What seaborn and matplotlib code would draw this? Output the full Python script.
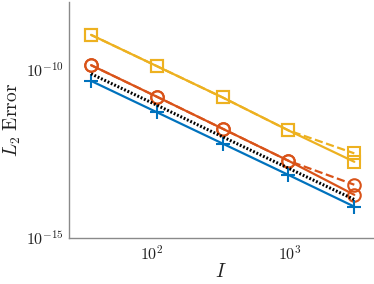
import numpy as np
import pandas as pd
import matplotlib
matplotlib.use('Agg')
import matplotlib.pyplot as plt
import seaborn as sns
from matplotlib.ticker import FixedLocator, FuncFormatter, LogLocator, NullFormatter

# data
I = [36, 108, 324, 972, 2916]
err_plus = [4.57e-11, 5.37e-12, 6.31e-13, 7.41e-14, 8.5e-15]
err_circ = [1.34e-10, 1.55e-11, 1.74e-12, 1.95e-13, 1.91e-14]
err_circ_dash = [1.34e-10, 1.55e-11, 1.74e-12, 1.95e-13, 3.8e-14]
err_sq = [1.06e-9, 1.25e-10, 1.47e-11, 1.55e-12, 1.82e-13]
err_sq_dash = [1.06e-9, 1.25e-10, 1.47e-11, 1.55e-12, 3.24e-13]
err_ref = [7.41e-11, 8.7e-12, 1.0e-12, 1.17e-13, 1.38e-14]

blue = '#0072BD'
orange = '#D95319'
yellow = '#EDB120'

sns.set_style('white')
plt.rcParams['font.family'] = ['DejaVu Serif']
plt.rcParams['mathtext.fontset'] = 'cm'

fig = plt.figure(figsize=(3.74, 2.84), dpi=100)
ax = fig.add_axes([0.185, 0.162, 0.813, 0.831])

mk = dict(markerfacecolor='none', markeredgewidth=1.5, markersize=8)

sns.lineplot(x=I, y=err_sq_dash, ax=ax, color=yellow, linestyle='--', lw=1.6,
             marker='s', markeredgecolor=yellow, **mk)
sns.lineplot(x=I, y=err_sq, ax=ax, color=yellow, lw=1.6,
             marker='s', markeredgecolor=yellow, **mk)
sns.lineplot(x=I, y=err_circ_dash, ax=ax, color=orange, linestyle='--', lw=1.6,
             marker='o', markeredgecolor=orange, **dict(mk, markersize=9))
sns.lineplot(x=I, y=err_circ, ax=ax, color=orange, lw=1.6,
             marker='o', markeredgecolor=orange, **dict(mk, markersize=9))
sns.lineplot(x=I, y=err_plus, ax=ax, color=blue, lw=1.6,
             marker='+', markeredgecolor=blue, **dict(mk, markersize=10))
sns.lineplot(x=I, y=err_ref, ax=ax, color='black', linestyle=(0, (0.6, 0.6)), lw=2.2)

ax.set_xscale('log')
ax.set_yscale('log')
ax.set_xlim(25, 4000)
ax.set_ylim(1e-15, 1e-8)

ax.yaxis.set_major_locator(FixedLocator([1e-15, 1e-10]))
ax.yaxis.set_minor_locator(FixedLocator([]))
ax.xaxis.set_major_locator(FixedLocator([1e2, 1e3]))
ax.xaxis.set_minor_locator(LogLocator(base=10, subs=np.arange(2, 10)))
ax.xaxis.set_minor_formatter(NullFormatter())
fmt = FuncFormatter(lambda v, p: r'$10^{%d}$' % round(np.log10(v)))
ax.xaxis.set_major_formatter(fmt)
ax.yaxis.set_major_formatter(fmt)

for s in ['top', 'right']:
    ax.spines[s].set_visible(False)
for s in ['left', 'bottom']:
    ax.spines[s].set_color('#8a8a8a')
    ax.spines[s].set_linewidth(1.0)

ax.tick_params(which='both', direction='in', color='#555555', labelsize=11.5,
               labelcolor='#222222')
ax.tick_params(which='major', length=3.5, width=0.8)
ax.tick_params(which='minor', length=2, width=0.6)
ax.tick_params(axis='x', pad=5)

ax.set_xlabel(r'$I$', fontsize=14, color='#222222', labelpad=0)
ax.set_ylabel(r'$L_2\ \mathrm{Error}$', fontsize=14, color='#222222', labelpad=2)

fig.savefig('out.png', dpi=100)
